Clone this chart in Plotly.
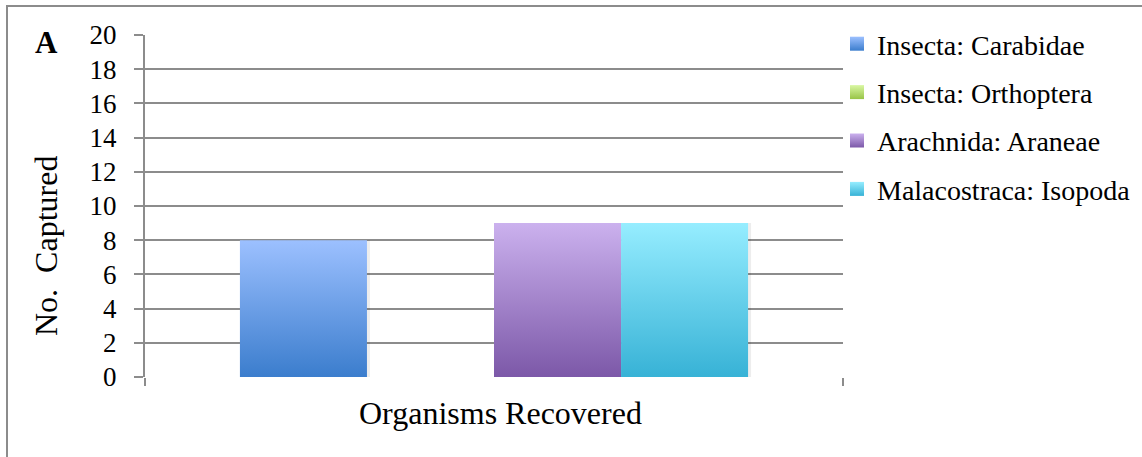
import plotly.graph_objects as go

# Catch per taxonomic group
groups = ["Insecta: Carabidae", "Insecta: Orthoptera", "Arachnida: Araneae", "Malacostraca: Isopoda"]
captured = [8, 0, 9, 9]
top_colors = ["#9cc0ff", "#d9f7a3", "#cbb1ee", "#96edff"]
bottom_colors = ["#3b7dcd", "#98c447", "#7c58a8", "#37b2d6"]
y_ticks = list(range(0, 21, 2))

W, H = 1142, 457
M_L, M_R, M_T, M_B = 145, 299, 35, 80
PW, PH = W - M_L - M_R, H - M_T - M_B

GRID = "#8c8c8c"
SERIF = "Liberation Serif"

BARGAP = 0.272
n = len(groups)
bar_w = (1 - BARGAP) / n
left = -(1 - BARGAP) / 2


def px_x(p):
    return (p - M_L) / PW


def px_y(p):
    return (M_T + PH - p) / PH


fig = go.Figure()

# soft shadow to the right of each bar
shift = 3 / PW
for i, v in enumerate(captured):
    if v <= 0:
        continue
    x0 = left + i * bar_w + shift
    x1 = x0 + bar_w
    fig.add_trace(go.Scatter(
        x=[x0, x1, x1, x0, x0], y=[0, 0, v, v, 0], mode="lines", fill="toself",
        fillcolor="rgba(0,0,0,0.07)", line=dict(width=0),
        showlegend=False, hoverinfo="skip"))

# gradient-filled bars
for i, (name, v, top, bottom) in enumerate(zip(groups, captured, top_colors, bottom_colors)):
    x0 = left + i * bar_w
    x1 = x0 + bar_w
    fig.add_trace(go.Scatter(
        x=[x0, x1, x1, x0, x0], y=[0, 0, v, v, 0], mode="lines", fill="toself",
        line=dict(width=0),
        fillgradient=dict(type="vertical", colorscale=[[0, bottom], [1, top]],
                          start=0, stop=max(v, 1e-6)),
        showlegend=False, hoverinfo="skip"))

# legend entries, one group each so rows can be spaced apart
for name, top, bottom in zip(groups, top_colors, bottom_colors):
    fig.add_trace(go.Scatter(
        x=[None], y=[None], mode="markers", name=name, legendgroup=name,
        marker=dict(symbol="square", size=14, color=top,
                    gradient=dict(type="vertical", color=bottom),
                    line=dict(width=0))))

fig.update_layout(
    width=W, height=H,
    margin=dict(l=M_L, r=M_R, t=M_T, b=M_B, autoexpand=False),
    paper_bgcolor="white", plot_bgcolor="white",
    font=dict(family=SERIF, color="black"),
    showlegend=True,
    legend=dict(x=px_x(837), xanchor="left", y=px_y(19), yanchor="top",
                font=dict(family=SERIF, size=28, color="black"),
                bgcolor="rgba(0,0,0,0)", borderwidth=0,
                traceorder="grouped", tracegroupgap=9),
    xaxis=dict(range=[-0.5, 0.5], showgrid=False, zeroline=False, showline=False,
               tickvals=[-0.5, 0.5], ticks="outside", ticklen=8, tickwidth=2,
               tickcolor=GRID, showticklabels=False, fixedrange=True),
    yaxis=dict(range=[0, 20], tickvals=y_ticks, ticktext=[str(t) for t in y_ticks],
               showgrid=True, gridcolor=GRID, gridwidth=2, zeroline=False,
               showline=True, linecolor=GRID, linewidth=2,
               ticks="outside", ticklen=9, tickwidth=2, tickcolor=GRID,
               ticklabelstandoff=12,
               tickfont=dict(family=SERIF, size=27, color="black"), fixedrange=True),
    shapes=[dict(type="rect", xref="paper", yref="paper",
                 x0=px_x(7), x1=px_x(W + 40), y0=px_y(H + 40), y1=px_y(6),
                 line=dict(color=GRID, width=2), fillcolor="rgba(0,0,0,0)", layer="below")],
    annotations=[
        dict(text="Organisms Recovered", xref="paper", yref="paper",
             x=px_x(500), y=px_y(413), xanchor="center", yanchor="middle",
             showarrow=False, font=dict(family=SERIF, size=32, color="black")),
        dict(text="No.\u00a0 Captured", xref="paper", yref="paper",
             x=px_x(46), y=px_y(246), xanchor="center", yanchor="middle", textangle=-90,
             showarrow=False, font=dict(family=SERIF, size=32, color="black")),
        dict(text="<b>A</b>", xref="paper", yref="paper",
             x=px_x(46), y=px_y(42), xanchor="center", yanchor="middle",
             showarrow=False, font=dict(family=SERIF, size=31, color="black")),
    ],
)

fig.write_html("out.html")
